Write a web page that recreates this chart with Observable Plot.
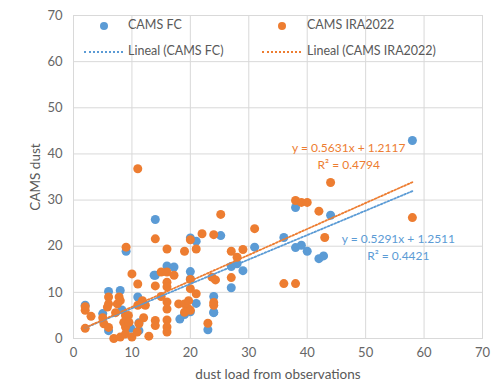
<!DOCTYPE html>
<html>
<head>
<meta charset="utf-8">
<script src="https://cdn.jsdelivr.net/npm/d3@7"></script>
<script src="https://cdn.jsdelivr.net/npm/@observablehq/plot@0.6"></script>
<style>
  html, body { margin: 0; padding: 0; background: #fff; }
  #wrap { position: relative; width: 500px; height: 389px; font-family: Lato, "Open Sans", sans-serif; }
  .leg { position: absolute; font-size: 12.5px; color: #595959; white-space: nowrap; line-height: 1; }
  .dot { position: absolute; width: 8px; height: 8px; border-radius: 50%; }
  .dash { position: absolute; height: 0; border-top: 2px dotted; }
  .axlab { position: absolute; font-size: 13.5px; color: #595959; white-space: nowrap; line-height: 1; }
</style>
</head>
<body>
<div id="wrap"></div>
<script>
// ---- data ----
const seriesNames = ["CAMS FC", "CAMS IRA2022"];
const seriesColors = ["#5B9BD5", "#ED7D31"];
const xLabel = "dust load from observations";
const yLabel = "CAMS dust";

const fcX = [58, 44, 42, 42.8, 38, 38, 39, 40, 36, 31, 29, 27, 28, 27, 25.2, 24, 24, 23, 20, 21,
  20, 20, 14, 9, 16, 17.2, 14, 11, 6, 8, 2, 5, 6, 8.3, 18.2, 19, 20, 21, 11.2, 11.2, 9.8, 13.8, 24];
const fcY = [42.9, 26.7, 17.3, 17.9, 28.4, 19.7, 20.2, 18.9, 21.9, 19.8, 14.7, 15.6, 16.2, 11, 22.3, 9.1, 5.6, 1.9, 21.8, 21.1,
  14.5, 12.9, 25.8, 18.9, 15.7, 15.5, 13.7, 9, 10.2, 10.4, 7.2, 5.4, 1.7, 6.2, 4.2, 5.2, 5.8, 7.6, 3.4, 1.7, 2.2, 13.7, 5.7];

const iraX = [58, 44, 42, 43, 38, 39, 40, 36, 38, 31, 29, 27, 28, 27, 25.2, 24, 22, 24.3, 24, 24,
  23, 21, 20, 19, 16, 14, 11, 9, 10, 11, 14, 15, 16, 17.2, 16, 16, 20, 21, 15, 6,
  7.8, 6, 7.5, 8, 2, 2, 3, 2, 5, 5.2, 6, 5.8, 7.2, 8.9, 9.4, 6.9, 8, 8.9, 8.9, 10,
  8.6, 9.5, 11.2, 12, 12.9, 10.9, 16, 16, 16, 16, 16, 14, 14, 18, 19, 19.7, 19.7, 19, 20, 11,
  11.8, 12.3, 11.8, 20, 23.7];
const iraY = [26.2, 33.8, 27.6, 21.9, 29.9, 29.5, 29.5, 11.9, 11.9, 23.8, 19.3, 18.9, 17.6, 13.2, 26.9, 22.5, 22.7, 12.7, 7.8, 7.2,
  3.3, 19.4, 21.4, 18.9, 19.4, 21.6, 36.8, 19.8, 14, 11.8, 11.4, 14.4, 14.4, 13.7, 12.2, 11.2, 12.8, 9.7, 9.1, 9,
  9, 7.5, 7.5, 8.2, 6.1, 6.9, 4.8, 2.2, 4.5, 3.2, 2.4, 6.8, 5.6, 5, 5, 0, 0.3, 2.5, 1, 0.3,
  3.5, 3.5, 3.2, 4.5, 0.5, 1.4, 7.9, 6.4, 4, 2.5, 1.4, 3.9, 2.8, 7.5, 7.5, 8.2, 6.4, 5.7, 6.1, 7.2,
  7.5, 7.2, 8.2, 10.8, 13.3];

// trendline equations as printed on the chart
const trendSlope = [0.5291, 0.5631];
const trendIntercept = [1.2511, 1.2117];
const trendR2 = ["0.4421", "0.4794"];
const xTicks = [0, 10, 20, 30, 40, 50, 60, 70];
const yTicks = [0, 10, 20, 30, 40, 50, 60, 70];

// ---- build tables ----
const fc = fcX.map((x, i) => ({x, y: fcY[i], s: seriesNames[0]}));
const ira = iraX.map((x, i) => ({x, y: iraY[i], s: seriesNames[1]}));
function trend(xs, k) {
  const [a, b] = d3.extent(xs);
  return [a, b].map(x => ({x, y: trendSlope[k] * x + trendIntercept[k]}));
}
const fcTrend = trend(fcX, 0);
const iraTrend = trend(iraX, 1);
const eqLabels = [
  {x: 47.1, y: 41.2, t: `y = ${trendSlope[1]}x + ${trendIntercept[1]}`, c: seriesColors[1]},
  {x: 47.1, y: 37.6, t: `R² = ${trendR2[1]}`, c: seriesColors[1]},
  {x: 55.6, y: 21.6, t: `y = ${trendSlope[0]}x + ${trendIntercept[0]}`, c: seriesColors[0]},
  {x: 55.6, y: 17.8, t: `R² = ${trendR2[0]}`, c: seriesColors[0]}
];

const chart = Plot.plot({
  width: 500,
  height: 389,
  marginLeft: 73,
  marginRight: 18,
  marginTop: 15,
  marginBottom: 51,
  style: {fontFamily: "Lato, 'Open Sans', sans-serif", fontSize: "13px", color: "#666", background: "#fff"},
  x: {domain: [0, 70], ticks: xTicks, tickSize: 0, tickPadding: 9, label: null},
  y: {domain: [0, 70], ticks: yTicks, tickSize: 0, tickPadding: 11, label: null},
  marks: [
    Plot.gridX(xTicks, {stroke: "#d9d9d9", strokeOpacity: 1}),
    Plot.gridY(yTicks, {stroke: "#d9d9d9", strokeOpacity: 1}),
    Plot.frame({stroke: "#d9d9d9"}),
    Plot.dot(fc, {x: "x", y: "y", r: 4.5, fill: seriesColors[0]}),
    Plot.dot(ira, {x: "x", y: "y", r: 4.5, fill: seriesColors[1]}),
    Plot.line(fcTrend, {x: "x", y: "y", stroke: seriesColors[0], strokeWidth: 1.8, strokeDasharray: "1.8,1.8"}),
    Plot.line(iraTrend, {x: "x", y: "y", stroke: seriesColors[1], strokeWidth: 1.8, strokeDasharray: "1.8,1.8"}),
    Plot.text(eqLabels, {x: "x", y: "y", text: "t", fill: "c", fontSize: 12})
  ]
});
const wrap = document.getElementById("wrap");
wrap.appendChild(chart);

// axis titles
const xl = document.createElement("div");
xl.className = "axlab";
xl.textContent = xLabel;
xl.style.left = "0px"; xl.style.width = "556px"; xl.style.textAlign = "center";
xl.style.top = "368px";
wrap.appendChild(xl);
const yl = document.createElement("div");
yl.className = "axlab";
yl.textContent = yLabel;
yl.style.left = "36px"; yl.style.top = "177px";
yl.style.transform = "translate(-50%, -50%) rotate(-90deg)";
wrap.appendChild(yl);

// legend inside plot area
const legendItems = [
  {kind: "dot", left: 104, top: 26, color: seriesColors[0], text: seriesNames[0], tx: 128},
  {kind: "dot", left: 282, top: 26, color: seriesColors[1], text: seriesNames[1], tx: 307},
  {kind: "dash", left: 84, top: 52, w: 39, color: seriesColors[0], text: `Lineal (${seriesNames[0]})`, tx: 128},
  {kind: "dash", left: 262, top: 52, w: 39, color: seriesColors[1], text: `Lineal (${seriesNames[1]})`, tx: 307}
];
for (const it of legendItems) {
  const m = document.createElement("div");
  if (it.kind === "dot") {
    m.className = "dot";
    m.style.left = (it.left - 4) + "px";
    m.style.top = (it.top - 4) + "px";
    m.style.background = it.color;
  } else {
    m.className = "dash";
    m.style.left = it.left + "px";
    m.style.top = (it.top - 1) + "px";
    m.style.width = it.w + "px";
    m.style.borderColor = it.color;
  }
  wrap.appendChild(m);
  const t = document.createElement("div");
  t.className = "leg";
  t.textContent = it.text;
  t.style.left = it.tx + "px";
  t.style.top = (it.top - 7) + "px";
  wrap.appendChild(t);
}
</script>
</body>
</html>
